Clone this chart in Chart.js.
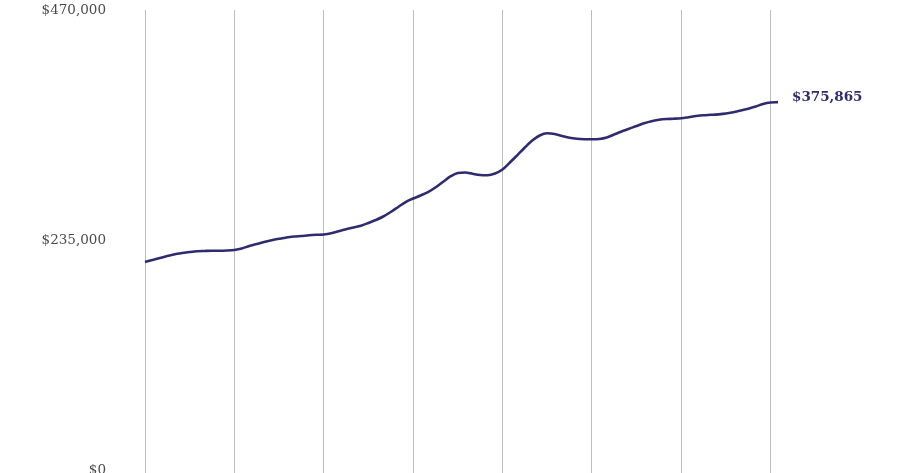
<!DOCTYPE html>
<html>
<head>
<meta charset="utf-8">
<script src="https://cdn.jsdelivr.net/npm/chart.js@4/dist/chart.umd.min.js"></script>
<style>
  html, body { margin: 0; padding: 0; overflow: hidden; background: #fff; }
  #wrap { position: absolute; left: 0; top: 0; width: 900px; height: 490px; }
</style>
</head>
<body>
<div id="wrap"><canvas id="c"></canvas></div>
<script>
// Monthly values, Jan 2015 .. Feb 2022
const startYear = 2015;
const months = ['Jan','Feb','Mar','Apr','May','Jun','Jul','Aug','Sep','Oct','Nov','Dec'];
const values = [
  212500, 214600, 216600, 218700, 220500, 221700, 222700, 223500, 223800, 224000, 224000, 224200,
  224800, 226300, 228900, 230900, 233000, 234700, 236200, 237600, 238500, 239100, 239800, 240300,
  240600, 241800, 243900, 245900, 247700, 249600, 252400, 255400, 259000, 263600, 268700, 273800,
  277400, 280500, 284000, 288600, 294300, 299900, 303500, 304000, 302600, 301400, 301200, 302900,
  307000, 314200, 321800, 329500, 336700, 341800, 344000, 343300, 341300, 339400, 338400, 338000,
  337900, 338200, 339700, 342800, 345900, 348600, 351500, 354200, 356400, 357800, 358600, 358900,
  359400, 360500, 361700, 362500, 362900, 363400, 364200, 365600, 367300, 369200, 371400, 374000,
  375500, 375865
];
const yTicks = [0, 235000, 470000];
const endLabel = '$375,865';

const labels = values.map((v, i) => months[i % 12] + ' ' + (startYear + Math.floor(i / 12)));
const lineColor = '#2e2c6e';

const endLabelPlugin = {
  id: 'endLabel',
  afterDatasetsDraw(chart) {
    const meta = chart.getDatasetMeta(0);
    const pt = meta.data[meta.data.length - 1];
    const ctx = chart.ctx;
    ctx.save();
    ctx.font = 'bold 13.5px "DejaVu Serif", serif';
    ctx.fillStyle = lineColor;
    ctx.textAlign = 'left';
    ctx.textBaseline = 'middle';
    ctx.fillText(endLabel, pt.x + 14, pt.y - 5);
    ctx.restore();
  }
};

new Chart(document.getElementById('c'), {
  type: 'line',
  data: {
    labels: labels,
    datasets: [{
      data: values,
      borderColor: lineColor,
      borderWidth: 2.6,
      pointRadius: 0,
      fill: false,
      cubicInterpolationMode: 'monotone',
      clip: false
    }]
  },
  options: {
    responsive: true,
    maintainAspectRatio: false,
    animation: false,
    layout: { padding: { top: 10, right: 122, bottom: 0, left: 0 } },
    plugins: { legend: { display: false }, tooltip: { enabled: false } },
    scales: {
      x: {
        ticks: { display: false },
        border: { display: false },
        grid: {
          drawTicks: true,
          tickLength: 20,
          lineWidth: 1,
          color: (c) => (c.index % 12 === 0 ? '#bdbdbd' : 'rgba(0,0,0,0)')
        }
      },
      y: {
        min: 0,
        max: 470000,
        afterBuildTicks: (scale) => { scale.ticks = yTicks.map(v => ({ value: v })); },
        afterFit: (scale) => { scale.width = 145; },
        border: { display: false },
        grid: { display: false, drawTicks: true, tickLength: 38 },
        ticks: {
          padding: 1,
          color: '#4a4a4a',
          font: { family: '"DejaVu Serif", serif', size: 13.5 },
          callback: (v) => '$' + Number(v).toLocaleString('en-US')
        }
      }
    }
  },
  plugins: [endLabelPlugin]
});
</script>
</body>
</html>
